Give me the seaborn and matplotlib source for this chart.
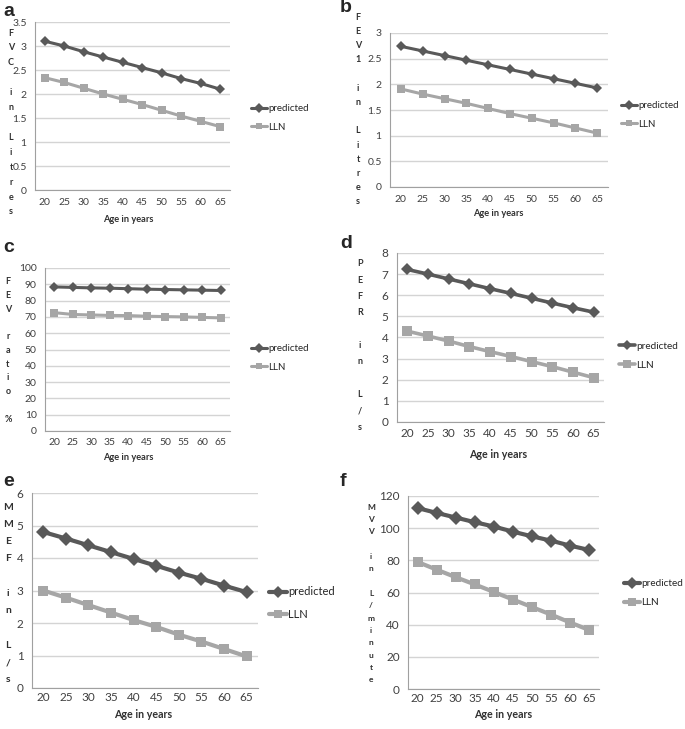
import pandas as pd
import matplotlib
matplotlib.use('Agg')
import matplotlib.pyplot as plt
import seaborn as sns
from matplotlib.ticker import FuncFormatter, MultipleLocator, FixedLocator

# ── Data ──
ages = [20, 25, 30, 35, 40, 45, 50, 55, 60, 65]

fvc_pred = [3.10, 3.00, 2.88, 2.77, 2.66, 2.55, 2.44, 2.32, 2.22, 2.10]
fvc_lln = [2.34, 2.24, 2.12, 2.00, 1.89, 1.78, 1.66, 1.54, 1.43, 1.32]

fev1_pred = [2.74, 2.65, 2.56, 2.47, 2.38, 2.29, 2.20, 2.11, 2.02, 1.93]
fev1_lln = [1.91, 1.81, 1.72, 1.63, 1.53, 1.43, 1.34, 1.25, 1.15, 1.05]

ratio_pred = [88.4, 88.1, 87.8, 87.6, 87.3, 87.0, 86.8, 86.6, 86.4, 86.2]
ratio_lln = [72.6, 71.5, 71.2, 70.9, 70.8, 70.4, 70.2, 70.0, 69.7, 69.4]

pefr_pred = [7.22, 7.00, 6.77, 6.54, 6.31, 6.09, 5.86, 5.63, 5.41, 5.20]
pefr_lln = [4.30, 4.07, 3.83, 3.57, 3.33, 3.10, 2.86, 2.62, 2.36, 2.10]

mmef_pred = [4.80, 4.60, 4.39, 4.18, 3.97, 3.76, 3.55, 3.36, 3.15, 2.95]
mmef_lln = [3.00, 2.78, 2.55, 2.32, 2.09, 1.88, 1.64, 1.43, 1.20, 0.97]

mvv_pred = [112.5, 109.5, 106.6, 103.7, 101.0, 97.8, 94.9, 92.2, 89.1, 86.4]
mvv_lln = [79.0, 74.2, 69.5, 65.0, 60.3, 55.6, 50.9, 46.2, 41.3, 36.6]

series_names = ['predicted', 'LLN']

# ── Style ──
sns.set_style("white")
plt.rcParams['font.family'] = ['Lato', 'DejaVu Sans']

W, H = 685, 729
fig = plt.figure(figsize=(W / 100, H / 100), dpi=100)

DARK = '#595959'
LIGHT = '#a6a6a6'
GRID = '#d4d4d4'


def px_axes(left, top, right, bottom):
    return fig.add_axes([left / W, 1 - bottom / H, (right - left) / W, (bottom - top) / H])


panels = [
    dict(letter='a', pred=fvc_pred, lln=fvc_lln, ymax=3.5, step=0.5,
         box=(35, 22, 230, 190), ylab='FVC in Litres', ylx=11, yl=(33, 212),
         lab=(3, 12), leg=(251, 118), legfs=7, xl=(128, 220), fs=7.5, pad=6,
         lw=2.2, ms=5.5, yfs=6.5),
    dict(letter='b', pred=fev1_pred, lln=fev1_lln, ymax=3.0, step=0.5,
         box=(390, 33, 608, 187), ylab='FEV1 in Litres', ylx=358, yl=(17, 202),
         lab=(340, 8), leg=(621, 115), legfs=7, xl=(498, 214), fs=7.5, pad=6,
         lw=2.2, ms=5.5, yfs=6.5),
    dict(letter='c', pred=ratio_pred, lln=ratio_lln, ymax=100, step=10,
         box=(45, 268, 230, 431), ylab='FEV ratio %', ylx=8, yl=(282, 419),
         lab=(3, 247), leg=(251, 358), legfs=7, xl=(128, 458), fs=7.5, pad=5,
         lw=2.2, ms=5.5, yfs=6.5),
    dict(letter='d', pred=pefr_pred, lln=pefr_lln, ymax=8, step=1,
         box=(397, 253, 604, 422), ylab='PEFR in L/s', ylx=360, yl=(264, 427),
         lab=(340, 244), leg=(619, 356), legfs=7.2, xl=(498, 455), fs=8.5, pad=4,
         lw=2.6, ms=6.5, yfs=6.5),
    dict(letter='e', pred=mmef_pred, lln=mmef_lln, ymax=6, step=1,
         box=(32, 493, 258, 688), ylab='MMEF in L/s', ylx=8, yl=(507, 680),
         lab=(3, 482), leg=(269, 603), legfs=8, xl=(143, 714), fs=8.5, pad=3,
         lw=3.0, ms=7.5, yfs=7.5),
    dict(letter='f', pred=mvv_pred, lln=mvv_lln, ymax=120, step=20,
         box=(408, 496, 599, 689), ylab='MVV in L/minute', ylx=371, yl=(507, 680),
         lab=(340, 482), leg=(624, 593), legfs=7.2, xl=(503, 714), fs=8.5, pad=3,
         lw=3.0, ms=7.5, yfs=6.0),
]

for p in panels:
    ax = px_axes(*p['box'])
    df = pd.DataFrame({
        'age': [str(a) for a in ages] * 2,
        'value': p['pred'] + p['lln'],
        'series': [series_names[0]] * len(ages) + [series_names[1]] * len(ages),
    })
    sns.pointplot(data=df, x='age', y='value', hue='series', ax=ax,
                  palette=[DARK, LIGHT], markers=['D', 's'], linestyles=['-', '-'],
                  errorbar=None, markersize=p['ms'], linewidth=p['lw'],
                  markeredgewidth=0)

    ax.set_ylim(0, p['ymax'])
    ax.set_xlim(-0.5, len(ages) - 0.5)
    ax.yaxis.set_major_locator(MultipleLocator(p['step']))
    ax.yaxis.set_major_formatter(FuncFormatter(lambda v, _: f'{v:g}'))
    ax.grid(axis='y', color=GRID, linewidth=1)
    ax.set_axisbelow(True)
    for s in ['top', 'right']:
        ax.spines[s].set_visible(False)
    for s in ['left', 'bottom']:
        ax.spines[s].set_color('#a0a0a0')
        ax.spines[s].set_linewidth(0.8)

    # category boundaries get the tick marks, labels sit in the middle
    ax.xaxis.set_minor_locator(FixedLocator([i - 0.5 for i in range(len(ages) + 1)]))
    ax.tick_params(axis='x', which='major', length=0, labelsize=p['fs'], colors='#404040',
                   pad=p['pad'])
    ax.tick_params(axis='x', which='minor', length=3, color='#a0a0a0', width=0.8)
    ax.tick_params(axis='y', length=3, color='#a0a0a0', labelsize=p['fs'], colors='#404040', pad=3)
    ax.set_xlabel('')
    ax.set_ylabel('')

    lx, ly = p['leg']
    sns.move_legend(ax, 'center left', bbox_to_anchor=(lx / W, 1 - ly / H),
                    bbox_transform=fig.transFigure, frameon=False, title=None,
                    fontsize=p['legfs'], handlelength=1.6, handletextpad=0.15,
                    labelspacing=1.0, borderpad=0, borderaxespad=0,
                    markerscale=0.85)

    # x axis title
    fig.text(p['xl'][0] / W, 1 - p['xl'][1] / H, 'Age in years', ha='center', va='center',
             fontsize=p['fs'] - 0.8, fontweight='bold', color='#303030')

    # stacked vertical y label, one character per line, blank line between words
    lines = []
    for word in p['ylab'].split(' '):
        lines += list(word) + ['']
    lines = lines[:-1]
    y0, y1 = p['yl']
    gap = (y1 - y0) / (len(lines) - 1)
    for i, ch in enumerate(lines):
        if ch:
            fig.text(p['ylx'] / W, 1 - (y0 + i * gap) / H, ch, ha='center', va='center',
                     fontsize=p['yfs'], fontweight='bold', color='#303030')

    # panel letter
    fig.text(p['lab'][0] / W, 1 - p['lab'][1] / H, p['letter'], ha='left', va='center',
             fontsize=14, fontweight='bold', family=['Liberation Sans', 'DejaVu Sans'])

fig.savefig('out.png', dpi=100)
